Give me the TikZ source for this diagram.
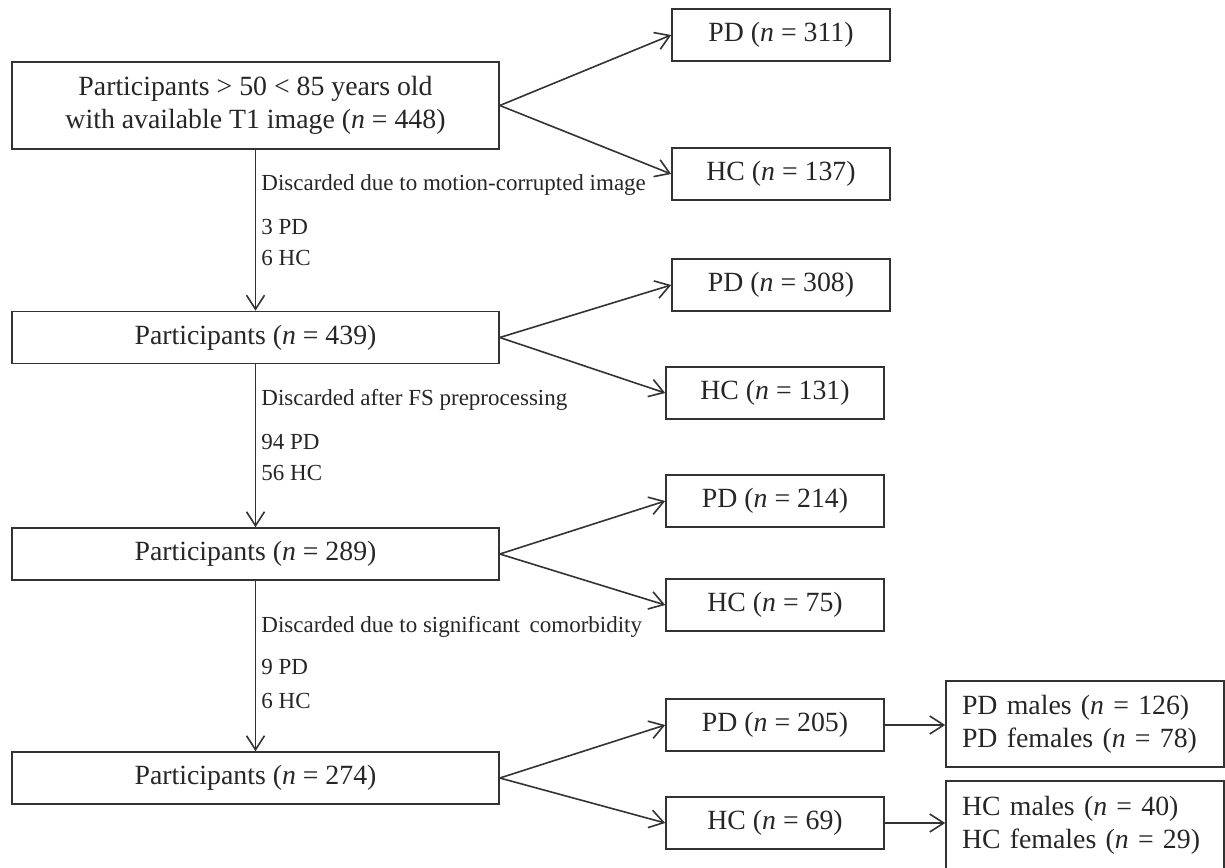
\documentclass[tikz,border=0pt]{standalone}
\usepackage{fontspec}
\setmainfont{Liberation Serif}
\usetikzlibrary{arrows.meta}

\begin{document}
\begin{tikzpicture}[x=0.5pt,y=-0.5pt,
  every node/.style={text=black!85, font=\fontsize{13.9}{16.5}\selectfont},
  box/.style={draw=black!80, line width=0.8pt, minimum width=243.5pt, minimum height=26pt, inner sep=0pt, align=center},
  side/.style={draw=black!80, line width=0.8pt, minimum width=109pt, minimum height=26pt, inner sep=0pt},
  sexbox/.style={draw=black!80, line width=0.8pt, text width=123pt, minimum height=43pt, inner xsep=8pt, inner ysep=0pt, align=left},
  lbl/.style={anchor=west, inner sep=0pt, align=left, font=\fontsize{11.5}{15.5}\selectfont},
  arr/.style={draw=black!80, line width=0.8pt, -{Straight Barb[length=7pt,width=9pt]}}]
\useasboundingbox (0,0) rectangle (1225,867);

% main column
\node[box, minimum height=43.5pt] (all) at (255.5,105.5) {Participants > 50 < 85 years old\\with available T1 image (\textit{n} = 448)};
\node[box] (p439) at (255.5,337.5) {Participants (\textit{n} = 439)};
\node[box] (p289) at (255.5,554) {Participants (\textit{n} = 289)};
\node[box] (p274) at (255.5,778) {Participants (\textit{n} = 274)};

% groups
\node[side] (pd311) at (781,35) {PD (\textit{n} = 311)};
\node[side] (hc137) at (781,174) {HC (\textit{n} = 137)};
\node[side] (pd308) at (781,285) {PD (\textit{n} = 308)};
\node[side] (hc131) at (775,393) {HC (\textit{n} = 131)};
\node[side] (pd214) at (775,501) {PD (\textit{n} = 214)};
\node[side] (hc75) at (775,605) {HC (\textit{n} = 75)};
\node[side] (pd205) at (775,725) {PD (\textit{n} = 205)};
\node[side] (hc69) at (775,823) {HC (\textit{n} = 69)};

% by sex
\node[sexbox] (pdsex) at (1085,724) {PD males (\textit{n} = 126)\\PD females (\textit{n} = 78)};
\node[sexbox, minimum height=44pt] (hcsex) at (1085,825) {HC males (\textit{n} = 40)\\HC females (\textit{n} = 29)};

% discarded
\node[lbl] (why1) at (261,185) {Discarded due to motion-corrupted image};
\node[lbl] (lost1) at (261,242.5) {3 PD\\6 HC};
\node[lbl] (why2) at (261,400) {Discarded after FS preprocessing};
\node[lbl] (lost2) at (261,457.5) {94 PD\\56 HC};
\node[lbl, font=\fontsize{11.5}{17}\selectfont] (why3) at (261,627) {Discarded due to significant\, comorbidity};
\node[lbl, font=\fontsize{11.5}{17}\selectfont] (lost3) at (261,684) {9 PD\\6 HC};

\draw[arr] (all) -- (p439);
\draw[arr] (p439) -- (p289);
\draw[arr] (p289) -- (p274);
\draw[arr] (all.east) -- (pd311.west);
\draw[arr] (all.east) -- (hc137.west);
\draw[arr] (p439.east) -- (pd308.west);
\draw[arr] (p439.east) -- (hc131.west);
\draw[arr] (p289.east) -- (pd214.west);
\draw[arr] (p289.east) -- (hc75.west);
\draw[arr] (p274.east) -- (pd205.west);
\draw[arr] (p274.east) -- (hc69.west);
\draw[arr] (pd205.east) -- (pd205.east -| pdsex.west);
\draw[arr] (hc69.east) -- (hc69.east -| hcsex.west);
\end{tikzpicture}
\end{document}
